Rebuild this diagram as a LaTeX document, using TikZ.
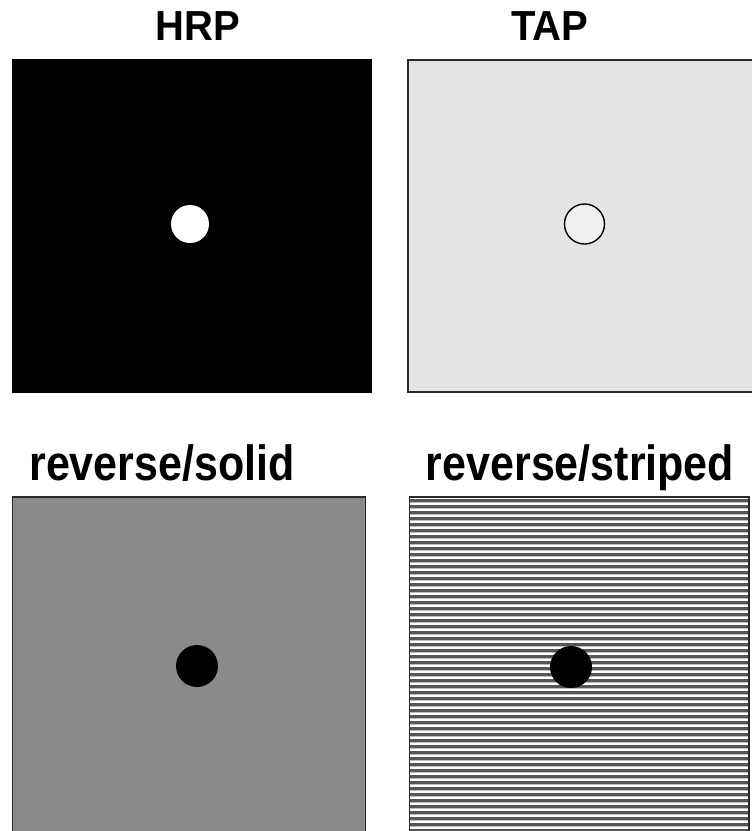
\documentclass[tikz,border=0pt]{standalone}
\usepackage{graphicx}
\usepackage{fontspec}
\setmainfont{Liberation Sans}
\definecolor{tapbg}{HTML}{E4E4E4}
\definecolor{tapdot}{HTML}{F0F0F0}
\definecolor{solidbg}{HTML}{8A8A8A}
\definecolor{stripedark}{HTML}{555555}
\definecolor{stripelight}{HTML}{BEBEBE}
\definecolor{frame}{HTML}{2A2A2A}
\tikzset{
  title/.style={anchor=base, inner sep=0pt, font=\bfseries\fontsize{#1}{#1}\selectfont},
  dot/.style={circle, minimum size=#1, inner sep=0pt},
}
\begin{document}
\begin{tikzpicture}[x=1pt,y=-1pt]
\useasboundingbox (0,0) rectangle (752,831);
\begin{scope}
\clip (0,0) rectangle (752,831);
% titles
\node[title=40] (hrp) at (198,40) {\scalebox{1}[1.05]{HRP}};
\node[title=40] (tap) at (550,40) {\scalebox{1}[1.05]{TAP}};
\node[title=43] (rsolid) at (162,480) {\scalebox{1}[1.15]{reverse/solid}};
\node[title=43] (rstriped) at (580,480) {\scalebox{1}[1.15]{reverse/striped}};
% HRP panel
\fill[black] (12,59) rectangle (372,393);
\node[dot=38pt, fill=white] (hrpdot) at (190,224) {};
% TAP panel
\draw[frame, line width=2.2pt, fill=tapbg] (408,60) rectangle (770,392);
\node[dot=40pt, draw=black, line width=1.4pt, fill=tapdot] (tapdot) at (584.5,224) {};
% reverse/solid panel
\draw[frame, line width=1.5pt, fill=solidbg] (12.5,497) rectangle (365.5,840);
\node[dot=42pt, fill=black] (soliddot) at (197,666) {};
% reverse/striped panel
\fill[white] (409,497) rectangle (749,840);
\foreach \y in {499,505,...,835}{
  \fill[stripedark] (409,\y) rectangle (749,\y+3.2);
  \fill[stripelight] (409,\y+3.2) rectangle (749,\y+4.4);
}
\draw[frame, line width=1.8pt] (409.5,497) rectangle (749,840);
\node[dot=42pt, fill=black] (stripeddot) at (571,667) {};
\end{scope}
\end{tikzpicture}
\end{document}
